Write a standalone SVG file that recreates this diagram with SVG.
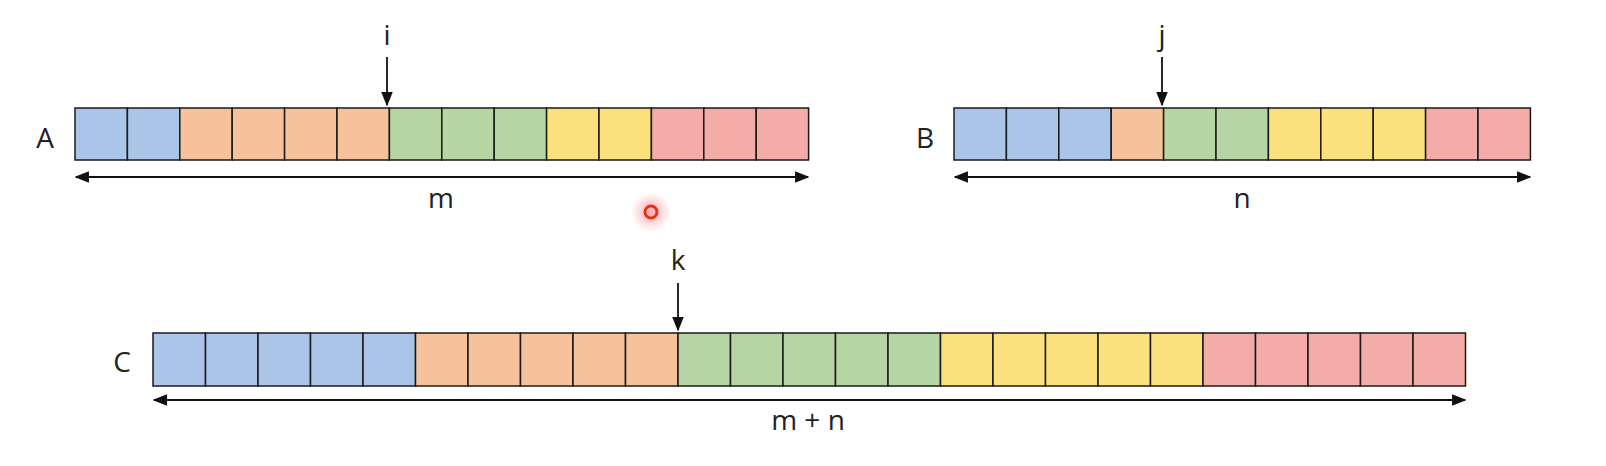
<svg xmlns="http://www.w3.org/2000/svg" width="1606" height="466" viewBox="0 0 1606 466">
<style>
.c{stroke:#1a1a1a;stroke-width:1.5}
.b{fill:#aac5e8}.o{fill:#f5c29c}.g{fill:#b5d5a2}.y{fill:#fbe07e}.r{fill:#f3aca7}
.t{font-family:"Open Sans","Liberation Sans",sans-serif;font-size:28px;fill:#222;text-anchor:middle}
.l{stroke:#111;stroke-width:1.8;fill:none}
</style>
<defs>
<marker id="ah" viewBox="0 0 10 10" refX="9" refY="5" markerWidth="8" markerHeight="8" orient="auto-start-reverse"><path d="M0,1 L10,5 L0,9 Z" fill="#111"/></marker>
<radialGradient id="gl"><stop offset="0" stop-color="#f55" stop-opacity="0.5"/><stop offset="1" stop-color="#f55" stop-opacity="0"/></radialGradient>
</defs>
<rect width="1606" height="466" fill="#fff"/>
<g id="arrayA">
<rect class="c b" x="75" y="108" width="52.4" height="52"/><rect class="c b" x="127.4" y="108" width="52.4" height="52"/>
<rect class="c o" x="179.8" y="108" width="52.4" height="52"/><rect class="c o" x="232.2" y="108" width="52.4" height="52"/><rect class="c o" x="284.6" y="108" width="52.4" height="52"/><rect class="c o" x="337" y="108" width="52.4" height="52"/>
<rect class="c g" x="389.4" y="108" width="52.4" height="52"/><rect class="c g" x="441.8" y="108" width="52.4" height="52"/><rect class="c g" x="494.2" y="108" width="52.4" height="52"/>
<rect class="c y" x="546.6" y="108" width="52.4" height="52"/><rect class="c y" x="599" y="108" width="52.4" height="52"/>
<rect class="c r" x="651.4" y="108" width="52.4" height="52"/><rect class="c r" x="703.8" y="108" width="52.4" height="52"/><rect class="c r" x="756.2" y="108" width="52.4" height="52"/>
<text class="t" x="45" y="148">A</text>
</g>
<g id="arrayB">
<rect class="c b" x="954" y="108" width="52.4" height="52"/><rect class="c b" x="1006.4" y="108" width="52.4" height="52"/><rect class="c b" x="1058.8" y="108" width="52.4" height="52"/>
<rect class="c o" x="1111.2" y="108" width="52.4" height="52"/>
<rect class="c g" x="1163.6" y="108" width="52.4" height="52"/><rect class="c g" x="1216" y="108" width="52.4" height="52"/>
<rect class="c y" x="1268.4" y="108" width="52.4" height="52"/><rect class="c y" x="1320.8" y="108" width="52.4" height="52"/><rect class="c y" x="1373.2" y="108" width="52.4" height="52"/>
<rect class="c r" x="1425.6" y="108" width="52.4" height="52"/><rect class="c r" x="1478" y="108" width="52.4" height="52"/>
<text class="t" x="925" y="148">B</text>
</g>
<g id="arrayC">
<rect class="c b" x="153" y="333" width="52.5" height="53"/><rect class="c b" x="205.5" y="333" width="52.5" height="53"/><rect class="c b" x="258" y="333" width="52.5" height="53"/><rect class="c b" x="310.5" y="333" width="52.5" height="53"/><rect class="c b" x="363" y="333" width="52.5" height="53"/>
<rect class="c o" x="415.5" y="333" width="52.5" height="53"/><rect class="c o" x="468" y="333" width="52.5" height="53"/><rect class="c o" x="520.5" y="333" width="52.5" height="53"/><rect class="c o" x="573" y="333" width="52.5" height="53"/><rect class="c o" x="625.5" y="333" width="52.5" height="53"/>
<rect class="c g" x="678" y="333" width="52.5" height="53"/><rect class="c g" x="730.5" y="333" width="52.5" height="53"/><rect class="c g" x="783" y="333" width="52.5" height="53"/><rect class="c g" x="835.5" y="333" width="52.5" height="53"/><rect class="c g" x="888" y="333" width="52.5" height="53"/>
<rect class="c y" x="940.5" y="333" width="52.5" height="53"/><rect class="c y" x="993" y="333" width="52.5" height="53"/><rect class="c y" x="1045.5" y="333" width="52.5" height="53"/><rect class="c y" x="1098" y="333" width="52.5" height="53"/><rect class="c y" x="1150.5" y="333" width="52.5" height="53"/>
<rect class="c r" x="1203" y="333" width="52.5" height="53"/><rect class="c r" x="1255.5" y="333" width="52.5" height="53"/><rect class="c r" x="1308" y="333" width="52.5" height="53"/><rect class="c r" x="1360.5" y="333" width="52.5" height="53"/><rect class="c r" x="1413" y="333" width="52.5" height="53"/>
<text class="t" x="122" y="372">C</text>
</g>
<g id="connectors">
<line class="l" x1="387" y1="57" x2="387" y2="105" marker-end="url(#ah)"/>
<line class="l" x1="1162" y1="57" x2="1162" y2="105" marker-end="url(#ah)"/>
<line class="l" x1="678" y1="283" x2="678" y2="330" marker-end="url(#ah)"/>
<line class="l" x1="76" y1="177" x2="808" y2="177" marker-start="url(#ah)" marker-end="url(#ah)"/>
<line class="l" x1="955" y1="177" x2="1530" y2="177" marker-start="url(#ah)" marker-end="url(#ah)"/>
<line class="l" x1="154" y1="400" x2="1465" y2="400" marker-start="url(#ah)" marker-end="url(#ah)"/>
</g>
<g id="labels">
<text class="t" x="387" y="45">i</text>
<text class="t" x="1162" y="45">j</text>
<text class="t" x="678" y="270">k</text>
<text class="t" x="441" y="208">m</text>
<text class="t" x="1242" y="208">n</text>
<text class="t" x="808" y="430">m + n</text>
</g>
<g id="cursor">
<circle cx="651" cy="212" r="20" fill="url(#gl)"/>
<circle cx="651" cy="212" r="6" fill="none" stroke="#e53020" stroke-width="3"/>
</g>
</svg>
